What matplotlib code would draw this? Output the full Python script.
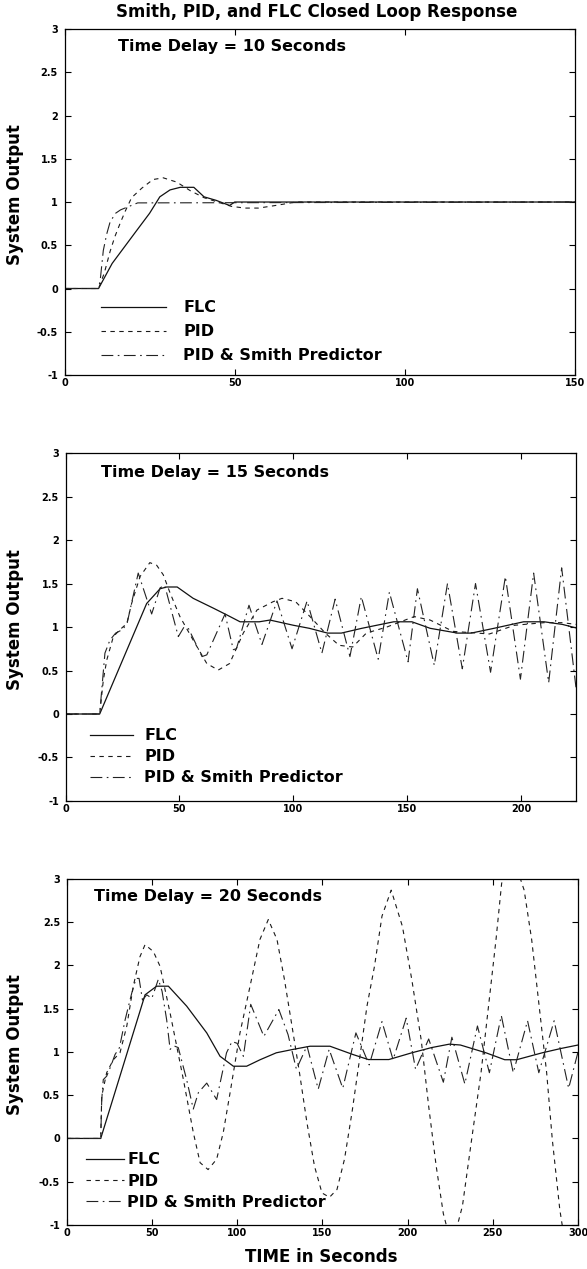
import matplotlib
matplotlib.use('Agg')
import matplotlib.pyplot as plt
from matplotlib.ticker import FuncFormatter, MultipleLocator

plt.rcParams['font.family'] = ['DejaVu Sans']
plt.rcParams['font.weight'] = 'bold'
plt.rcParams['axes.unicode_minus'] = False
plt.rcParams['lines.scale_dashes'] = False

# ---------------- data ----------------
TITLE = "Smith, PID, and FLC Closed Loop Response"
SERIES = ["FLC", "PID", "PID & Smith Predictor"]
DELAY_LABELS = ["Time Delay = 10 Seconds", "Time Delay = 15 Seconds", "Time Delay = 20 Seconds"]
YLABEL = "System Output"
XLABEL = "TIME in Seconds"
XLIMS = [150, 224, 300]
XTICKS = [[0, 50, 100, 150], [0, 50, 100, 150, 200], [0, 50, 100, 150, 200, 250, 300]]
YTICKS = [-1, -0.5, 0, 0.5, 1, 1.5, 2, 2.5, 3]

# Panel 1 (delay 10 s)
t1_flc = [0, 10, 14, 21, 25, 28, 31, 34, 38, 41, 44.5, 48.5, 50, 70, 150]
y1_flc = [0, 0, 0.29, 0.66, 0.87, 1.06, 1.14, 1.17, 1.17, 1.06, 1.02, 0.96, 1.0, 1.0, 1.0]
t1_pid = [0, 10, 11.7, 13.4, 14.8, 16.3, 17.8, 19.7, 22.7, 26, 29, 33, 37, 41, 45, 49, 53, 57, 62, 68, 150]
y1_pid = [0, 0, 0.18, 0.43, 0.6, 0.75, 0.89, 1.05, 1.16, 1.26, 1.28, 1.23, 1.13, 1.05, 1.0, 0.95, 0.93, 0.93, 0.96, 1.0, 1.0]
t1_sp = [0, 10, 10.5, 11.4, 12.4, 13.4, 15, 16.5, 19, 21.5, 150]
y1_sp = [0, 0, 0.1, 0.44, 0.63, 0.77, 0.87, 0.91, 0.95, 0.99, 1.0]

# Panel 2 (delay 15 s)
t2_flc = [0, 15, 35.6, 41.5, 44.4, 49, 56, 65, 70.7, 76.6, 85, 89.7, 100, 107, 115, 121, 130, 144, 152,
          160, 172, 178, 188, 201, 210, 218, 224]
y2_flc = [0, 0, 1.27, 1.44, 1.46, 1.46, 1.33, 1.215, 1.14, 1.06, 1.06, 1.08, 1.02, 0.985, 0.93, 0.93, 0.985,
          1.06, 1.06, 0.985, 0.93, 0.93, 0.985, 1.06, 1.06, 1.03, 0.99]
t2_pid = [0, 15, 16.6, 18.1, 21, 23.9, 26.9, 29, 32.7, 37, 40, 42.9, 45.9, 50.2, 56, 62, 67, 72, 78, 84, 91,
          95, 101, 108, 114, 120, 126, 132, 141, 153, 160, 170, 186, 197, 210, 218, 224]
y2_pid = [0, 0, 0.39, 0.62, 0.89, 0.97, 1.04, 1.27, 1.58, 1.74, 1.71, 1.6, 1.39, 1.12, 0.85, 0.58, 0.505,
          0.58, 0.93, 1.195, 1.29, 1.33, 1.29, 1.1, 0.93, 0.79, 0.77, 0.93, 1.0, 1.12, 1.08, 0.95, 0.92,
          1.02, 1.05, 1.05, 1.03]
t2_sp = [0, 15, 15.9, 17.3, 19.5, 22, 25, 27, 31.9, 36.3, 37.8, 41.5, 43.5, 49.5, 52, 54, 59.9, 62, 70,
         73.6, 75, 80.5, 86.2, 92.8, 99.4, 106, 112.5, 118.3, 124.8, 129.8, 137.2, 142.1, 150.3, 154.4,
         161.8, 167.6, 174.1, 179.9, 186.5, 193, 199.6, 205.4, 212, 217.7, 224]
y2_sp = [0, 0, 0.28, 0.7, 0.85, 0.93, 0.97, 1.04, 1.62, 1.27, 1.15, 1.45, 1.48, 0.89, 1.0, 0.98, 0.66, 0.68,
         1.15, 0.74, 0.75, 1.25, 0.8, 1.3, 0.75, 1.3, 0.7, 1.32, 0.66, 1.35, 0.63, 1.4, 0.6, 1.44,
         0.56, 1.5, 0.52, 1.5, 0.48, 1.58, 0.4, 1.62, 0.36, 1.68, 0.3]

# Panel 3 (delay 20 s)
t3_flc = [0, 20, 46, 52.8, 59.7, 70.4, 82.2, 90, 97.8, 105.6, 113.5, 123, 133, 142.8, 154.5, 168, 177, 189,
          202.5, 214, 224.5, 231, 246, 257, 264, 279, 290, 300]
y3_flc = [0, 0, 1.66, 1.76, 1.76, 1.53, 1.22, 0.95, 0.835, 0.835, 0.91, 0.99, 1.03, 1.066, 1.066, 0.97,
          0.912, 0.912, 0.99, 1.05, 1.09, 1.08, 0.99, 0.91, 0.91, 0.99, 1.04, 1.08]
t3_pid = [0, 20, 20.6, 23.5, 27.4, 31.3, 35.3, 39.1, 43, 46, 50.9, 54.8, 60.7, 68.5, 74.3, 78.3, 83, 88,
          91.9, 95.9, 101.7, 107.6, 113.4, 118.3, 123.4, 127.8, 132.2, 136.6, 141, 145.4, 149.8, 154.2,
          158.6, 163, 167.4, 171.8, 176.2, 180.6, 185, 190.4, 197, 202.5, 208, 212.4, 216.8, 221, 226,
          232.2, 237.6, 243.1, 247.5, 251.9, 255.2, 262, 268.4, 272.8, 277.2, 281.6, 284.9, 289.3, 295, 300]
y3_pid = [0, 0, 0.49, 0.76, 0.91, 0.99, 1.30, 1.76, 2.10, 2.24, 2.16, 1.99, 1.45, 0.68, 0.07, -0.28, -0.36,
          -0.24, 0.07, 0.53, 1.22, 1.76, 2.30, 2.53, 2.30, 1.835, 1.30, 0.76, 0.18, -0.32, -0.63, -0.68,
          -0.59, -0.24, 0.30, 0.91, 1.53, 1.99, 2.57, 2.87, 2.45, 1.835, 1.14, 0.37, -0.32, -0.87, -1.25,
          -0.78, -0.01, 0.76, 1.53, 2.30, 2.95, 3.25, 2.87, 2.30, 1.53, 0.76, -0.01, -0.82, -1.55, -1.6]
t3_sp = [0, 20, 20.6, 21.5, 23.5, 26, 28.4, 31, 34.3, 38.2, 40.7, 42.5, 44.5, 47, 50, 53.8, 56, 58.7, 60.7,
         63, 65.5, 70.4, 74.3, 77.3, 82.2, 88, 93.8, 97, 100, 103.7, 108, 115.7, 124.5, 129.9, 134.8, 141,
         147.6, 154, 162, 169.7, 177.5, 185, 191.5, 199.2, 204.7, 212.4, 221, 226, 233.6, 241, 248, 255,
         262, 270.4, 277, 286, 294.5, 300]
y3_sp = [0, 0, 0.45, 0.68, 0.72, 0.84, 0.97, 1.05, 1.37, 1.68, 1.85, 1.85, 1.6, 1.66, 1.62, 1.84, 1.7, 1.37,
         1.03, 1.07, 1.05, 0.68, 0.34, 0.53, 0.64, 0.45, 0.99, 1.12, 1.1, 0.95, 1.55, 1.18, 1.49, 1.2, 0.8,
         1.07, 0.57, 1.03, 0.58, 1.22, 0.85, 1.35, 0.91, 1.39, 0.8, 1.15, 0.65, 1.17, 0.63, 1.3, 0.76,
         1.42, 0.76, 1.36, 0.76, 1.36, 0.58, 1.0]

DATA = [
    [(t1_flc, y1_flc), (t1_pid, y1_pid), (t1_sp, y1_sp)],
    [(t2_flc, y2_flc), (t2_pid, y2_pid), (t2_sp, y2_sp)],
    [(t3_flc, y3_flc), (t3_pid, y3_pid), (t3_sp, y3_sp)],
]

# ---------------- layout / style ----------------
W, H = 587, 1269
fig = plt.figure(figsize=(W / 100, H / 100), dpi=100)

positions = [[0.1099, 0.7045, 0.8697, 0.2726],
             [0.1116, 0.3688, 0.8697, 0.2742],
             [0.1135, 0.0347, 0.8712, 0.2727]]
styles = [dict(linestyle='-', linewidth=0.9),
          dict(linestyle=(0, (3.2, 3.2)), linewidth=0.8),
          dict(linestyle=(0, (8.5, 3.2, 1.2, 3.2)), linewidth=0.8)]
colors = ['#111111', '#1a1a1a', '#222222']
annot_pos = [(0.105, 0.937), (0.070, 0.932), (0.053, 0.937)]
leg_cfg = [dict(anchor=(0.0715, 0.125), hl=4.1, htp=1.06, ls=0.56),
           dict(anchor=(0.048, 0.127), hl=2.7, htp=0.7, ls=0.37),
           dict(anchor=(0.038, 0.127), hl=2.35, htp=0.24, ls=0.40)]
ylab_x = [-0.0787, -0.0807, -0.0827]


def fmt(v, pos):
    return f'{v:g}'


for i in range(3):
    ax = fig.add_axes(positions[i])
    for j, (t, y) in enumerate(DATA[i]):
        ax.plot(t, y, color=colors[j], label=SERIES[j], **styles[j])
    ax.set_xlim(0, XLIMS[i])
    ax.set_ylim(-1, 3)
    ax.set_xticks(XTICKS[i])
    ax.set_yticks(YTICKS)
    ax.xaxis.set_major_formatter(FuncFormatter(fmt))
    ax.yaxis.set_major_formatter(FuncFormatter(fmt))
    ax.tick_params(direction='in', length=4, width=0.8, top=True, right=True, labelsize=7)
    ax.tick_params(axis='x', pad=2.5)
    ax.tick_params(axis='y', pad=4.7)
    for lab in ax.get_xticklabels() + ax.get_yticklabels():
        lab.set_fontweight('bold')
    for sp in ax.spines.values():
        sp.set_linewidth(0.9)
    ax.set_ylabel(YLABEL, fontsize=12, fontweight='bold')
    ax.yaxis.set_label_coords(ylab_x[i], 0.521)
    ax.text(annot_pos[i][0], annot_pos[i][1], DELAY_LABELS[i], transform=ax.transAxes,
            fontsize=11.5, fontweight='bold', ha='left', va='baseline')
    c = leg_cfg[i]
    ax.legend(loc='center left', bbox_to_anchor=c['anchor'], frameon=False, borderpad=0,
              borderaxespad=0, handlelength=c['hl'], handletextpad=c['htp'], labelspacing=c['ls'],
              prop=dict(size=11.5, weight='bold'))
    if i == 2:
        ax.set_xlabel(XLABEL, fontsize=12, fontweight='bold')
        ax.xaxis.set_label_coords(0.497, -0.068)

fig.text(0.54, 1 - 3 / H, TITLE, ha='center', va='top', fontsize=12, fontweight='bold')

fig.savefig('out.png', dpi=100)
